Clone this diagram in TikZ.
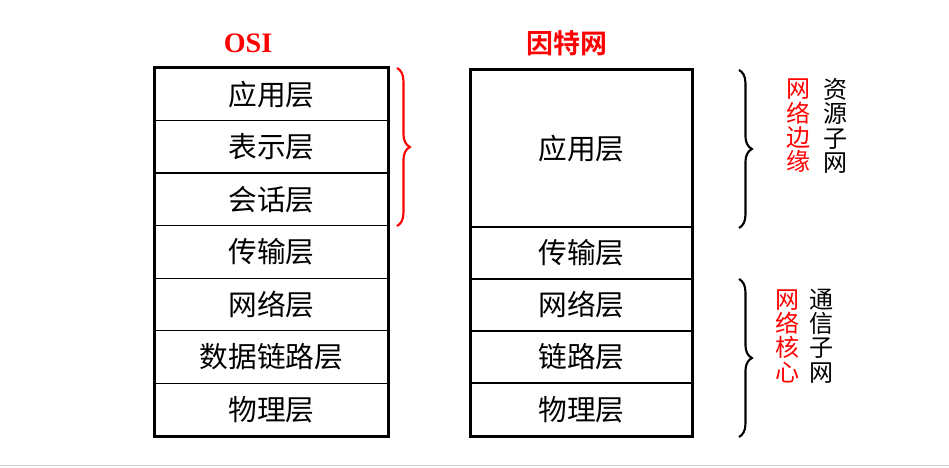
\documentclass[tikz,border=0pt]{standalone}
\usepackage{fontspec}
\setmainfont{Liberation Serif}
\newfontfamily\cjk{Noto Sans CJK SC}
\newfontfamily\cjkbold{Noto Sans CJK SC Bold}
\usetikzlibrary{decorations.pathreplacing}
\tikzset{
  cell/.style={draw, line width=1.1pt, inner sep=0pt, font=\cjk\fontsize{24.5}{27}\selectfont},
  osicell/.style={cell, minimum width=6.99cm, minimum height=1.577cm},
  inetcell/.style={cell, minimum width=6.63cm, minimum height=1.56cm},
  frame/.style={line width=1.9pt},
  title/.style={text=red, font=\bfseries\fontsize{24}{28}\selectfont},
  vlabel/.style={align=center, inner sep=0pt, font=\cjk\fontsize{20.5}{20.8}\selectfont},
  bracket/.style={decorate, decoration={brace, amplitude=11pt}, line width=1.8pt}
}
\begin{document}
\begin{tikzpicture}[x=0.03cm, y=-0.03cm]
  \useasboundingbox (0,0) rectangle (949,467);
  % OSI stack
  \node[title] (osititle) at (248,43) {OSI};
  \foreach \name [count=\i] in {应用层,表示层,会话层,传输层,网络层,数据链路层,物理层}
    \node[osicell] (osi\i) at (271.5, 68+52.57*\i-26.29) {\name};
  \draw[frame] (osi1.north west) rectangle (osi7.south east);
  % Internet stack
  \node[title, font=\cjkbold\fontsize{23}{28}\selectfont] (inettitle) at (567,43) {因特网};
  \node[inetcell, minimum height=4.71cm] (inet1) at (581.5,148.5) {应用层};
  \node[inetcell] (inet2) at (581.5,253) {传输层};
  \node[inetcell] (inet3) at (581.5,305) {网络层};
  \node[inetcell] (inet4) at (581.5,357) {链路层};
  \node[inetcell, minimum height=1.59cm] (inet5) at (581.5,409.5) {物理层};
  \draw[frame] (inet1.north west) rectangle (inet5.south east);
  % braces
  \coordinate (osib1) at (397,68);
  \coordinate (osib2) at (397,226);
  \draw[bracket, red] (osib1) -- (osib2);
  \coordinate (edgeb1) at (739,70);
  \coordinate (edgeb2) at (739,228);
  \draw[bracket] (edgeb1) -- (edgeb2);
  \coordinate (coreb1) at (739,279);
  \coordinate (coreb2) at (739,437);
  \draw[bracket] (coreb1) -- (coreb2);
  % side labels
  \node[vlabel, text=red] (edge) at (798,126) {网\\络\\边\\缘};
  \node[vlabel] (ressub) at (835,126) {资\\源\\子\\网};
  \node[vlabel, text=red] (core) at (788,336) {网\\络\\核\\心};
  \node[vlabel] (comsub) at (821,336) {通\\信\\子\\网};
  \draw[gray!40, line width=1pt] (0,465.5) -- (949,465.5);
\end{tikzpicture}
\end{document}
